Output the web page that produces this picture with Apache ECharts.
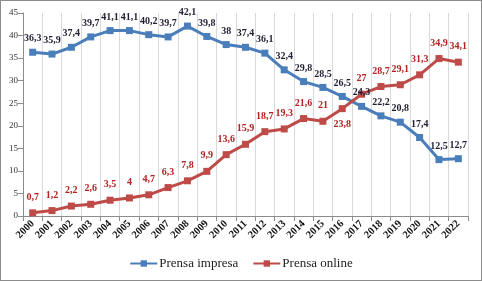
<!DOCTYPE html>
<html>
<head>
<meta charset="utf-8">
<script src="https://cdn.jsdelivr.net/npm/echarts@6/dist/echarts.min.js"></script>
<style type="text/css">
	html,body{margin:0;padding:0;background:#fff;}
	#chart_div{width:480px;height:279px;border:1px solid #8c8c8c;}
</style>
</head>
<body>
<div id="chart_div"></div>
<script>
	// años
	var years = ['2000','2001','2002','2003','2004','2005','2006','2007','2008','2009','2010','2011',
		'2012','2013','2014','2015','2016','2017','2018','2019','2020','2021','2022'];
	// prensa impresa
	var impresa = [36.3,35.9,37.4,39.7,41.1,41.1,40.2,39.7,42.1,39.8,38,37.4,36.1,32.4,29.8,28.5,26.5,24.3,22.2,20.8,17.4,12.5,12.7];
	// prensa online
	var online = [0.7,1.2,2.2,2.6,3.5,4,4.7,6.3,7.8,9.9,13.6,15.9,18.7,19.3,21.6,21,23.8,27,28.7,29.1,31.3,34.9,34.1];

	var serif = 'Liberation Serif';

	function fmt(p){
		return String(p.value).replace('.', ',');
	}

	var onlineData = online.map(function(v, i){
		if (years[i] == '2016') {
			return {value: v, label: {position: 'bottom'}};
		}
		return v;
	});

	var chart = echarts.init(document.getElementById('chart_div'));
	chart.setOption({
		animation: false,
		grid: {left: 22, right: 13, top: 12, bottom: 64},
		legend: {
			bottom: 5,
			left: 'center',
			itemGap: 14,
			itemWidth: 27,
			itemHeight: 8,
			textStyle: {fontFamily: serif, fontSize: 13, color: '#222', padding: [0, 0, 0, -3]},
			data: ['Prensa impresa', 'Prensa online']
		},
		xAxis: {
			type: 'category',
			data: years,
			boundaryGap: true,
			axisLine: {lineStyle: {color: '#8c8c8c'}},
			axisTick: {show: true, lineStyle: {color: '#8c8c8c'}},
			splitLine: {show: true, lineStyle: {color: '#d9d9d9'}},
			axisLabel: {
				interval: 0,
				rotate: 45,
				fontFamily: serif,
				fontWeight: 'bold',
				fontSize: 10.5,
				color: '#111',
				margin: 6
			}
		},
		yAxis: {
			type: 'value',
			min: 0,
			max: 45,
			interval: 5,
			axisLine: {show: true, lineStyle: {color: '#8c8c8c'}},
			axisTick: {show: true, lineStyle: {color: '#8c8c8c'}},
			splitLine: {show: false},
			axisLabel: {fontFamily: serif, fontSize: 9, color: '#333', margin: 5}
		},
		series: [
			{
				name: 'Prensa impresa',
				type: 'line',
				data: impresa,
				symbol: 'rect',
				symbolSize: 7,
				color: '#4a7ebb',
				lineStyle: {width: 3, color: '#4a7ebb'},
				label: {
					show: true,
					position: 'top',
					distance: 5,
					formatter: fmt,
					fontFamily: serif,
					fontWeight: 'bold',
					fontSize: 10,
					color: '#1f1f33'
				}
			},
			{
				name: 'Prensa online',
				type: 'line',
				data: onlineData,
				symbol: 'rect',
				symbolSize: 7,
				color: '#be4b48',
				lineStyle: {width: 3, color: '#be4b48'},
				label: {
					show: true,
					position: 'top',
					distance: 7,
					formatter: fmt,
					fontFamily: serif,
					fontWeight: 'bold',
					fontSize: 10,
					color: '#b22222'
				}
			}
		]
	});
</script>
</body>
</html>
